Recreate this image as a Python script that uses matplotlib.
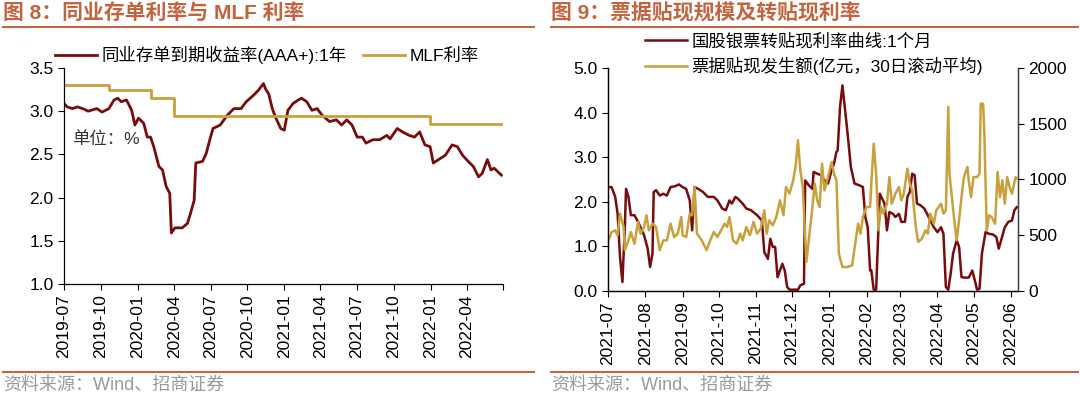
import matplotlib
matplotlib.use('Agg')
import matplotlib.pyplot as plt
from matplotlib.lines import Line2D
import pandas as pd

plt.rcParams.update({
    'font.family': ['Liberation Sans', 'Noto Sans CJK SC'],
    'font.size': 12,
    'axes.linewidth': 0.9,
    'xtick.direction': 'out', 'ytick.direction': 'out',
    'xtick.major.size': 4, 'ytick.major.size': 4,
    'xtick.labelsize': 12.5, 'ytick.labelsize': 12.5,
})

RED = '#780C0C'
GOLD = '#C8A03C'
ORANGE = '#C4643F'
GREY = '#9A9A9A'

# ---- 图8: 同业存单到期收益率(AAA+):1年 vs MLF ----
ncd_dates = [
    '2019-07-01', '2019-07-09', '2019-07-22', '2019-08-04', '2019-08-22', '2019-08-30', '2019-09-21',
    '2019-10-04', '2019-10-21', '2019-11-03', '2019-11-12', '2019-11-21', '2019-12-04', '2019-12-17',
    '2019-12-25', '2020-01-03', '2020-01-16', '2020-01-25', '2020-02-02', '2020-02-10', '2020-02-23',
    '2020-03-03', '2020-03-12', '2020-03-21', '2020-03-25', '2020-04-03', '2020-04-21', '2020-05-04',
    '2020-05-12', '2020-05-21', '2020-05-25', '2020-06-11', '2020-06-20', '2020-06-29', '2020-07-07',
    '2020-07-25', '2020-08-11', '2020-08-28', '2020-09-15', '2020-09-28', '2020-10-15', '2020-10-28',
    '2020-11-10', '2020-11-15', '2020-11-23', '2020-12-02', '2020-12-10', '2020-12-23', '2021-01-01',
    '2021-01-10', '2021-01-23', '2021-02-05', '2021-02-13', '2021-02-26', '2021-03-11', '2021-03-24',
    '2021-04-06', '2021-04-24', '2021-05-11', '2021-05-24', '2021-06-06', '2021-06-19', '2021-07-02',
    '2021-07-15', '2021-07-24', '2021-08-10', '2021-08-27', '2021-09-14', '2021-09-22', '2021-10-10',
    '2021-10-23', '2021-11-09', '2021-11-22', '2021-12-05', '2021-12-18', '2021-12-31', '2022-01-08',
    '2022-01-21', '2022-02-07', '2022-02-24', '2022-03-09', '2022-03-22', '2022-04-05', '2022-04-18',
    '2022-05-01', '2022-05-10', '2022-05-23', '2022-06-01', '2022-06-09', '2022-06-18', '2022-06-27',
]
ncd_rate = [
    3.09, 3.05, 3.03, 3.05, 3.02, 3.00, 3.03,
    2.99, 3.03, 3.13, 3.15, 3.11, 3.13, 3.01,
    2.84, 2.92, 2.86, 2.70, 2.70, 2.59, 2.36,
    2.32, 2.13, 2.05, 1.59, 1.65, 1.65, 1.70,
    1.82, 1.97, 2.40, 2.42, 2.51, 2.67, 2.80,
    2.84, 2.95, 3.03, 3.03, 3.11, 3.18, 3.24,
    3.32, 3.26, 3.20, 3.03, 2.93, 2.80, 2.78,
    3.01, 3.09, 3.13, 3.15, 3.11, 3.01, 3.03,
    2.95, 2.88, 2.90, 2.84, 2.90, 2.84, 2.70,
    2.70, 2.63, 2.67, 2.67, 2.72, 2.68, 2.80,
    2.76, 2.72, 2.70, 2.76, 2.61, 2.59, 2.40,
    2.44, 2.49, 2.61, 2.59, 2.49, 2.42, 2.36,
    2.24, 2.28, 2.44, 2.32, 2.34, 2.30, 2.26,
]
mlf_dates = ['2019-07-01', '2019-10-21', '2020-02-02', '2020-03-31', '2021-12-31', '2022-06-30']
mlf_rate = [3.30, 3.25, 3.15, 2.95, 2.85, 2.85]

# ---- 图9: 转贴现利率 vs 票据贴现发生额 ----
disc_dates = [
    '2021-07-01', '2021-07-04', '2021-07-07', '2021-07-09', '2021-07-11', '2021-07-13', '2021-07-15',
    '2021-07-16', '2021-07-18', '2021-07-20', '2021-07-23', '2021-07-26', '2021-07-28', '2021-07-31',
    '2021-08-03', '2021-08-05', '2021-08-07', '2021-08-08', '2021-08-10', '2021-08-13', '2021-08-16',
    '2021-08-19', '2021-08-22', '2021-08-26', '2021-08-29', '2021-09-01', '2021-09-04', '2021-09-07',
    '2021-09-09', '2021-09-11', '2021-09-14', '2021-09-18', '2021-09-22', '2021-09-27', '2021-09-30',
    '2021-10-04', '2021-10-07', '2021-10-10', '2021-10-12', '2021-10-15', '2021-10-17', '2021-10-21',
    '2021-10-24', '2021-10-28', '2021-11-02', '2021-11-06', '2021-11-08', '2021-11-11', '2021-11-13',
    '2021-11-15', '2021-11-17', '2021-11-19', '2021-11-21', '2021-11-23', '2021-11-25', '2021-11-27',
    '2021-11-29', '2021-12-04', '2021-12-06', '2021-12-08', '2021-12-11', '2021-12-12', '2021-12-15',
    '2021-12-18', '2021-12-19', '2021-12-22', '2021-12-25', '2021-12-28', '2021-12-31', '2022-01-03',
    '2022-01-05', '2022-01-07', '2022-01-08', '2022-01-10', '2022-01-12', '2022-01-13', '2022-01-16',
    '2022-01-19', '2022-01-22', '2022-01-26', '2022-01-29', '2022-01-31', '2022-02-02', '2022-02-04',
    '2022-02-05', '2022-02-07', '2022-02-09', '2022-02-12', '2022-02-14', '2022-02-16', '2022-02-18',
    '2022-02-20', '2022-02-23', '2022-02-25', '2022-02-28', '2022-03-02', '2022-03-05', '2022-03-07',
    '2022-03-09', '2022-03-11', '2022-03-13', '2022-03-15', '2022-03-18', '2022-03-21', '2022-03-24',
    '2022-03-26', '2022-03-29', '2022-04-01', '2022-04-04', '2022-04-06', '2022-04-08', '2022-04-10',
    '2022-04-12', '2022-04-14', '2022-04-17', '2022-04-19', '2022-04-21', '2022-04-24', '2022-04-27',
    '2022-04-30', '2022-05-02', '2022-05-04', '2022-05-06', '2022-05-08', '2022-05-11', '2022-05-14',
    '2022-05-17', '2022-05-20', '2022-05-22', '2022-05-24', '2022-05-27', '2022-05-30', '2022-06-02',
    '2022-06-04', '2022-06-06',
]
disc_rate = [
    2.33, 2.33, 2.11, 1.73, 0.76, 0.20, 1.43,
    2.29, 2.11, 1.70, 1.70, 1.55, 1.43, 1.25,
    0.95, 0.54, 0.84, 2.22, 2.26, 2.14, 2.18,
    2.14, 2.33, 2.35, 2.39, 2.33, 2.29, 2.03,
    1.36, 2.33, 2.29, 2.22, 2.11, 2.11, 2.03,
    1.85, 1.81, 2.03, 1.96, 2.11, 2.07, 1.96,
    1.85, 1.81, 1.70, 1.58, 0.87, 0.72, 1.17,
    0.99, 0.99, 0.31, 0.46, 0.61, 0.46, 0.09,
    0.03, 0.03, 0.03, 0.13, 0.16, 2.48, 2.37,
    2.29, 2.67, 2.63, 2.60, 2.48, 2.41, 2.71,
    2.86, 3.12, 3.15, 4.13, 4.61, 4.35, 3.60,
    2.78, 2.41, 2.37, 2.33, 1.66, 1.43, 0.46,
    0.46, 0.03, 0.03, 2.18, 2.07, 1.96, 1.36,
    1.77, 1.73, 1.66, 1.73, 1.55, 1.55, 2.11,
    2.22, 2.63, 2.60, 1.96, 1.92, 1.85, 1.70,
    1.58, 1.43, 1.32, 1.43, 1.28, 0.09, 0.03,
    0.39, 0.84, 1.14, 0.99, 0.31, 0.30, 0.30,
    0.46, 0.24, 0.03, 0.05, 0.84, 1.32, 1.28,
    1.27, 1.21, 0.95, 1.14, 1.43, 1.55, 1.58,
    1.81, 1.88,
]
amt_dates = [
    '2021-07-01', '2021-07-04', '2021-07-07', '2021-07-09', '2021-07-11', '2021-07-14', '2021-07-15',
    '2021-07-18', '2021-07-20', '2021-07-23', '2021-07-26', '2021-07-28', '2021-07-31', '2021-08-02',
    '2021-08-04', '2021-08-07', '2021-08-10', '2021-08-13', '2021-08-16', '2021-08-19', '2021-08-22',
    '2021-08-25', '2021-08-28', '2021-08-31', '2021-09-01', '2021-09-04', '2021-09-07', '2021-09-09',
    '2021-09-11', '2021-09-13', '2021-09-17', '2021-09-21', '2021-09-24', '2021-09-27', '2021-09-30',
    '2021-10-03', '2021-10-06', '2021-10-08', '2021-10-10', '2021-10-13', '2021-10-16', '2021-10-19',
    '2021-10-21', '2021-10-24', '2021-10-27', '2021-10-30', '2021-11-02', '2021-11-05', '2021-11-08',
    '2021-11-10', '2021-11-12', '2021-11-15', '2021-11-18', '2021-11-21', '2021-11-24', '2021-11-26',
    '2021-11-29', '2021-12-02', '2021-12-04', '2021-12-06', '2021-12-08', '2021-12-10', '2021-12-13',
    '2021-12-15', '2021-12-18', '2021-12-20', '2021-12-22', '2021-12-24', '2021-12-26', '2021-12-28',
    '2021-12-31', '2022-01-02', '2022-01-03', '2022-01-05', '2022-01-07', '2022-01-09', '2022-01-12',
    '2022-01-16', '2022-01-20', '2022-01-23', '2022-01-25', '2022-01-27', '2022-01-29', '2022-02-01',
    '2022-02-04', '2022-02-05', '2022-02-07', '2022-02-09', '2022-02-11', '2022-02-13', '2022-02-15',
    '2022-02-18', '2022-02-20', '2022-02-22', '2022-02-25', '2022-02-28', '2022-03-02', '2022-03-04',
    '2022-03-07', '2022-03-09', '2022-03-11', '2022-03-14', '2022-03-16', '2022-03-19', '2022-03-22',
    '2022-03-24', '2022-03-26', '2022-03-29', '2022-03-31', '2022-04-02', '2022-04-04', '2022-04-06',
    '2022-04-08', '2022-04-10', '2022-04-11', '2022-04-13', '2022-04-15', '2022-04-17', '2022-04-19',
    '2022-04-21', '2022-04-23', '2022-04-26', '2022-04-27', '2022-04-29', '2022-05-01', '2022-05-04',
    '2022-05-06', '2022-05-07', '2022-05-09', '2022-05-10', '2022-05-12', '2022-05-14', '2022-05-16',
    '2022-05-19', '2022-05-21', '2022-05-23', '2022-05-25', '2022-05-27', '2022-05-29', '2022-05-31',
    '2022-06-02', '2022-06-05', '2022-06-06',
]
amt_value = [
    440, 529, 544, 499, 694, 574, 366,
    454, 529, 424, 619, 514, 574, 679,
    544, 604, 574, 366, 454, 454, 604,
    484, 514, 664, 499, 484, 694, 679,
    933, 514, 454, 366, 454, 529, 484,
    544, 604, 574, 664, 454, 424, 514,
    454, 574, 499, 619, 514, 559, 724,
    514, 634, 589, 664, 813, 679, 933,
    873, 993, 1112, 1351, 1082, 933, 260,
    454, 753, 963, 813, 753, 1142, 903,
    1022, 1112, 1157, 1052, 993, 335, 215,
    215, 230, 454, 604, 514, 664, 753,
    753, 963, 1321, 1052, 544, 753, 694,
    783, 1022, 783, 873, 933, 813, 873,
    1097, 963, 903, 574, 440, 469, 544,
    514, 694, 604, 724, 753, 783, 694,
    724, 1650, 1052, 843, 634, 454, 634,
    843, 1022, 1112, 993, 843, 1022, 1022,
    1052, 1680, 1680, 1411, 544, 679, 664,
    604, 1067, 843, 993, 783, 1022, 933,
    873, 1022, 1007,
]

W, H = 1080, 397
fig = plt.figure(figsize=(W / 100, H / 100), dpi=100)


def fx(px):
    return px / W


def fy(py):
    return 1 - py / H


# headers, rules and sources
for x0, x1, title in [(3, 534, '图 8：同业存单利率与 MLF 利率'),
                      (551, 1078, '图 9：票据贴现规模及转贴现利率')]:
    fig.text(fx(x0), fy(13), title, fontsize=15, fontweight='bold', color=ORANGE, va='center', ha='left')
    fig.add_artist(Line2D([fx(x0), fx(x1)], [fy(26.5), fy(26.5)], color=ORANGE, lw=1.5))
    fig.add_artist(Line2D([fx(x0), fx(x1)], [fy(372), fy(372)], color=ORANGE, lw=1.5))
    fig.text(fx(x0), fy(385), '资料来源：Wind、招商证券', fontsize=13, color=GREY, va='center', ha='left')

# ---------------- left chart ----------------
ax1 = fig.add_axes([fx(64), fy(284), fx(503 - 64), (284 - 68) / H])
ax1.plot(pd.to_datetime(ncd_dates), ncd_rate, color=RED, lw=2.0, label='同业存单到期收益率(AAA+):1年')
ax1.plot(pd.to_datetime(mlf_dates), mlf_rate, color=GOLD, lw=2.0, drawstyle='steps-post', label='MLF利率')
ax1.set_ylim(1.0, 3.5)
ax1.set_yticks([1.0, 1.5, 2.0, 2.5, 3.0, 3.5])
ax1.yaxis.set_major_formatter(matplotlib.ticker.FormatStrFormatter('%.1f'))
q_ticks = pd.date_range('2019-07-01', '2022-07-01', freq='QS-JAN')
ax1.set_xlim(q_ticks[0], q_ticks[-1])
ax1.set_xticks(q_ticks)
ax1.set_xticklabels([d.strftime('%Y-%m') for d in q_ticks[:-1]] + [''], rotation=90)
for s in ['top', 'right']:
    ax1.spines[s].set_visible(False)
ax1.text(fx(72), fy(139), '单位：%', transform=fig.transFigure, fontsize=12.5, color='#333333', va='center')
ax1.legend(loc='center left', bbox_to_anchor=(fx(55), fy(55)), bbox_transform=fig.transFigure,
           ncol=2, frameon=False, fontsize=12.5, handlelength=2.4, handletextpad=0.25,
           columnspacing=1.0, borderpad=0, borderaxespad=0)

# ---------------- right chart ----------------
ax2 = fig.add_axes([fx(608), fy(291), fx(1018 - 608), (291 - 68) / H])
ax3 = ax2.twinx()
l1, = ax2.plot(pd.to_datetime(disc_dates), disc_rate, color=RED, lw=1.8, label='国股银票转贴现利率曲线:1个月')
l2, = ax3.plot(pd.to_datetime(amt_dates), amt_value, color=GOLD, lw=1.8, label='票据贴现发生额(亿元，30日滚动平均)')
ax2.set_ylim(0, 5)
ax2.set_yticks([0, 1, 2, 3, 4, 5])
ax2.yaxis.set_major_formatter(matplotlib.ticker.FormatStrFormatter('%.1f'))
ax3.set_ylim(0, 2000)
ax3.set_yticks([0, 500, 1000, 1500, 2000])
m_ticks = pd.date_range('2021-07-01', '2022-06-01', freq='MS')
ax2.set_xlim(pd.Timestamp('2021-07-01'), pd.Timestamp('2022-06-07'))
ax2.set_xticks(m_ticks)
ax2.set_xticklabels([d.strftime('%Y-%m') for d in m_ticks], rotation=90)
for a in (ax2, ax3):
    a.spines['top'].set_visible(False)
ax3.spines['right'].set_color('#444444')
fig.legend(handles=[l1, l2], loc='upper left', bbox_to_anchor=(fx(645), fy(33)),
           bbox_transform=fig.transFigure, frameon=False, fontsize=12.5, handlelength=2.4,
           handletextpad=0.25, labelspacing=0.4, borderpad=0, borderaxespad=0)

fig.savefig('out.png', dpi=100)
